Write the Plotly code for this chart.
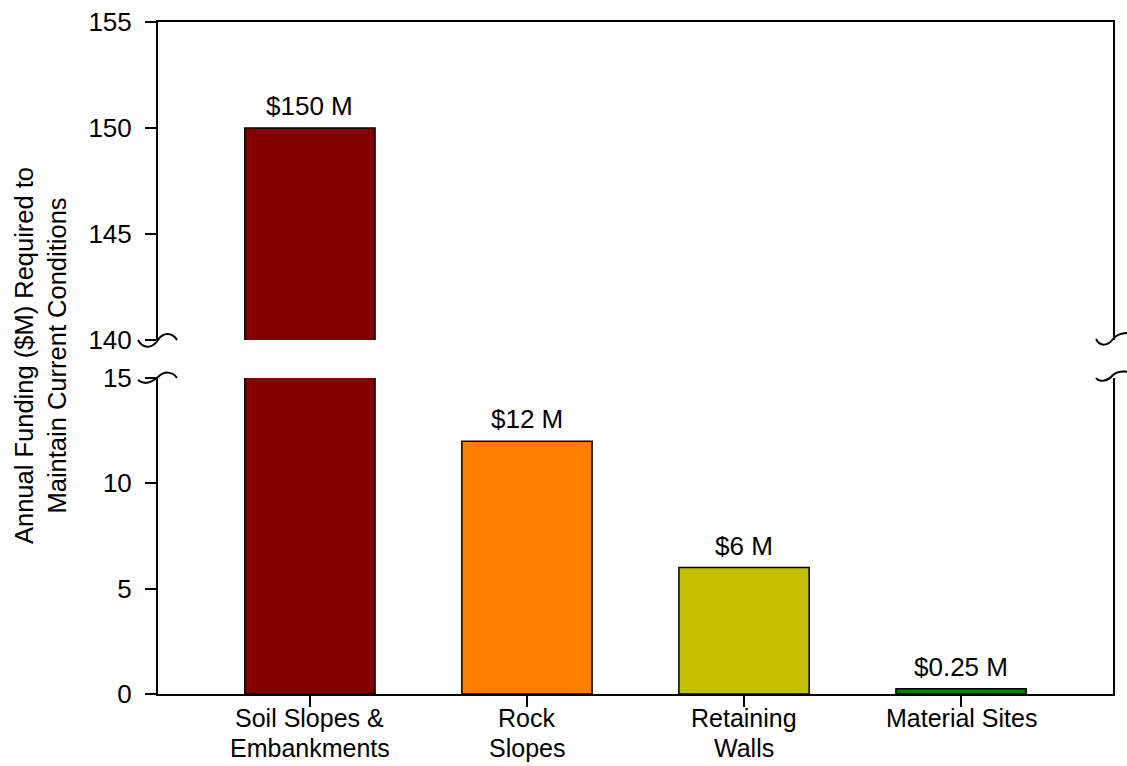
import plotly.graph_objects as go

# Data
categories = ["Soil Slopes &<br>Embankments", "Rock<br>Slopes", "Retaining<br>Walls", "Material Sites"]
values = [150, 12, 6, 0.25]
colors = ["#800000", "#FF8000", "#C0C000", "#008000"]
labels = ["$150 M", "$12 M", "$6 M", "$0.25 M"]

lower_range = [0, 15]
upper_range = [140, 155]
lower_ticks = [0, 5, 10, 15]
upper_ticks = [140, 145, 150, 155]

W, H = 1127, 766
L, R, T, B = 158, 1113, 22, 694
LOW_TOP, UP_BOT = 378, 340
FONT = "Liberation Sans, Arial, sans-serif"
FS = 26
CAT_FS = 25

xs = list(range(len(categories)))

fig = go.Figure()
for ax in ("y", "y2"):
    fig.add_trace(go.Bar(
        x=xs, y=values, yaxis=ax, xaxis="x" if ax == "y" else "x2",
        marker=dict(color=colors, line=dict(color="black", width=1.5)),
        width=0.6, showlegend=False, hoverinfo="skip",
    ))


def px(x):
    return (x - L) / (R - L)


def py(y):
    return (B - y) / (B - T)


# value labels above bars
annotations = []
for i, (v, lab) in enumerate(zip(values, labels)):
    yref = "y2" if v > lower_range[1] else "y"
    annotations.append(dict(
        x=i, y=v, xref="x", yref=yref, text=lab, showarrow=False,
        yanchor="bottom", yshift=5, font=dict(size=FS, color="black", family=FONT),
    ))

# category labels: first line sits above LINE_SPLIT, second line hangs below it
LINE_SPLIT = 733
for i, cat in enumerate(categories):
    for k, line in enumerate(cat.split("<br>")):
        annotations.append(dict(
            x=i, y=py(LINE_SPLIT), xref="x", yref="paper", text=line,
            showarrow=False, xanchor="center",
            yanchor="bottom" if k == 0 else "top", borderpad=0,
            font=dict(size=CAT_FS, color="black", family=FONT),
        ))

# y axis title
annotations.append(dict(
    x=px(40), y=py((T + B) / 2 - 2), xref="paper", yref="paper",
    text="Annual Funding ($M) Required to<br>Maintain Current Conditions",
    textangle=-90, showarrow=False, xanchor="center", yanchor="middle",
    font=dict(size=25.5, color="black", family=FONT),
))


def path(points):
    # points: start then groups of 3 for cubic bezier segments (pixel coords)
    (x0, y0) = points[0]
    s = f"M{px(x0)},{py(y0)}"
    rest = points[1:]
    for k in range(0, len(rest), 3):
        c1, c2, e = rest[k:k + 3]
        s += f" C{px(c1[0])},{py(c1[1])} {px(c2[0])},{py(c2[1])} {px(e[0])},{py(e[1])}"
    return s


breaks = [
    [(138, 340), (143, 349), (152, 349), (158, 340), (163, 332), (172, 332), (177, 340)],
    [(138, 380), (144, 385), (151, 383), (158, 377), (164, 371), (172, 371), (177, 378)],
    [(1096, 339), (1100, 347), (1108, 346), (1113, 339), (1117, 334), (1122, 333), (1128, 333)],
    [(1096, 378), (1100, 383), (1108, 381), (1113, 375), (1118, 371), (1123, 371), (1128, 372)],
]
shapes = [dict(type="path", path=path(p), xref="paper", yref="paper",
               line=dict(color="black", width=2), layer="above") for p in breaks]

y_low_dom = [0, (B - LOW_TOP) / (B - T)]
y_up_dom = [(B - UP_BOT) / (B - T), 1]

axis_font = dict(size=FS, color="black", family=FONT)

fig.update_layout(
    width=W, height=H,
    margin=dict(l=L, r=W - R, t=T, b=H - B, autoexpand=False),
    plot_bgcolor="white", paper_bgcolor="white",
    bargap=0.4,
    xaxis=dict(
        domain=[0, 1], anchor="y", range=[-0.7, 3.7], automargin=False,
        tickmode="array", tickvals=xs, showticklabels=False,
        ticks="outside", ticklen=11, tickwidth=1.5, tickcolor="black",
        showline=True, linecolor="black", linewidth=2, mirror=False,
        showgrid=False, zeroline=False,
    ),
    xaxis2=dict(
        domain=[0, 1], anchor="y2", range=[-0.7, 3.7], side="top", automargin=False,
        showticklabels=False, ticks="",
        showline=True, linecolor="black", linewidth=2, mirror=False,
        showgrid=False, zeroline=False,
    ),
    yaxis=dict(
        domain=y_low_dom, anchor="x", range=lower_range, automargin=False,
        tickmode="array", tickvals=lower_ticks,
        ticks="outside", ticklen=11, tickwidth=1.5, tickcolor="black",
        ticklabelstandoff=8,
        showline=True, linecolor="black", linewidth=2, mirror=True,
        showgrid=False, zeroline=False, tickfont=axis_font,
    ),
    yaxis2=dict(
        domain=y_up_dom, anchor="x2", range=upper_range, automargin=False,
        tickmode="array", tickvals=upper_ticks,
        ticks="outside", ticklen=11, tickwidth=1.5, tickcolor="black",
        ticklabelstandoff=8,
        showline=True, linecolor="black", linewidth=2, mirror=True,
        showgrid=False, zeroline=False, tickfont=axis_font,
    ),
    annotations=annotations,
    shapes=shapes,
)

fig.write_html("out.html")
